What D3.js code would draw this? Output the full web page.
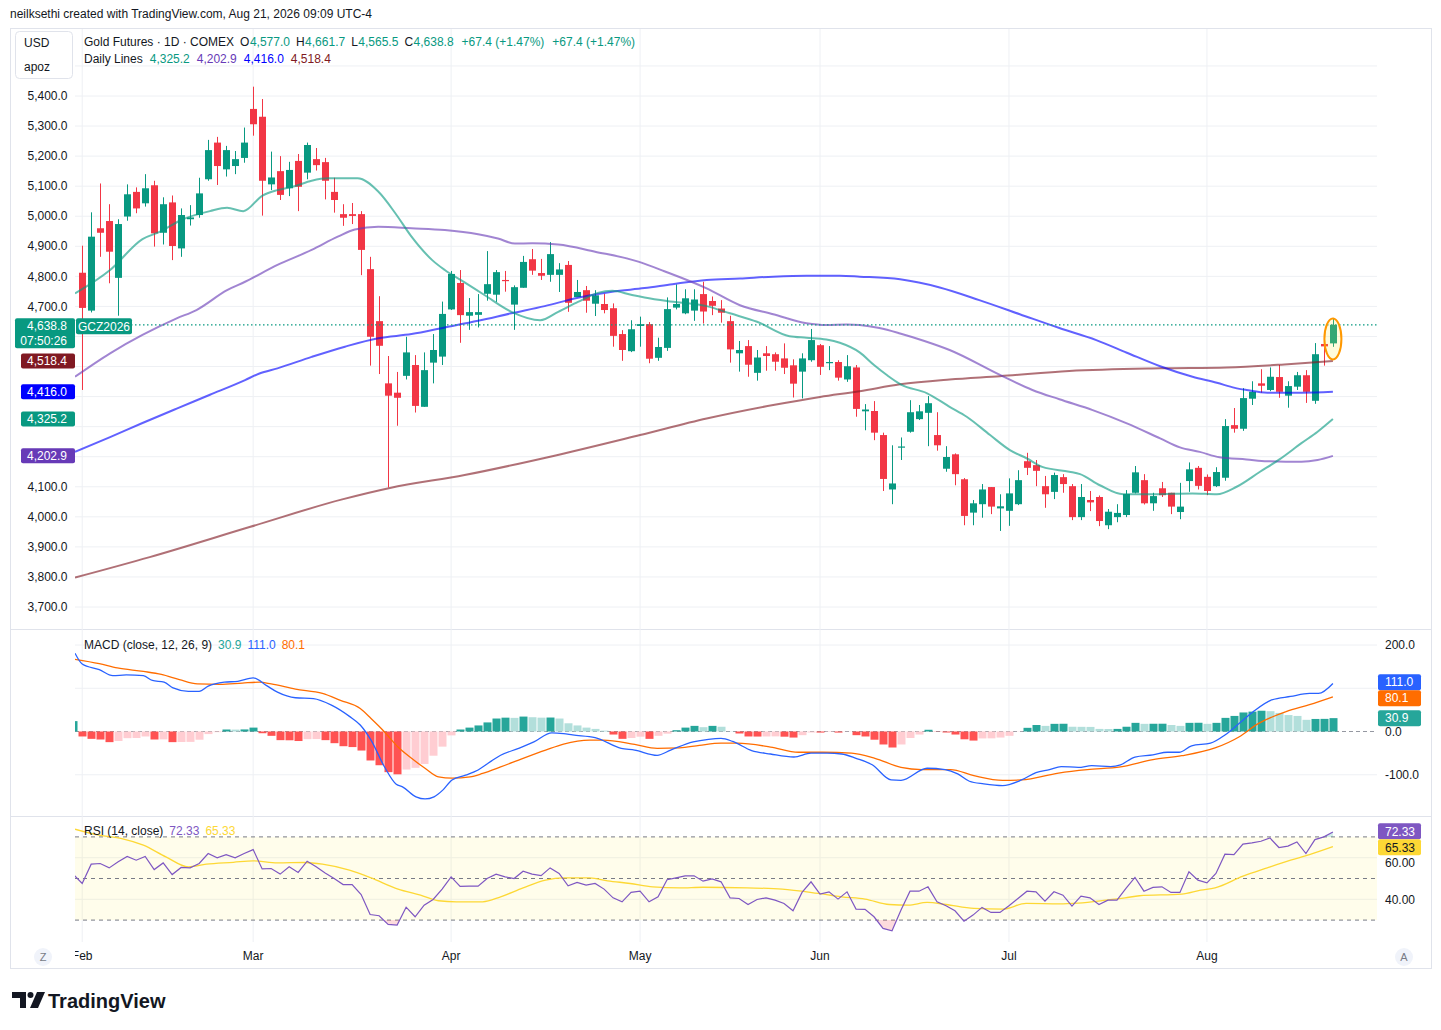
<!DOCTYPE html>
<html>
<head>
<meta charset="utf-8">
<script src="https://cdn.jsdelivr.net/npm/d3@7"></script>
<style>
  body { margin: 0; background: #fff; }
  svg text { font-family: "Liberation Sans", Arial, sans-serif; font-size: 12px; }
</style>
</head>
<body>
<div id="container"></div>
<script>
// ---- daily candles, Feb 2 .. Aug 21 2026 (bar index 0..139) ----
const opens = [
  4812,4686,4960,4984,4795,4999,5081,5043,5103,4945,
  5046,4893,4990,5004,5123,5245,5156,5167,5194,5357,
  5331,5106,5150,5093,5184,5145,5190,5180,5081,5007,
  5007,5007,4824,4651,4444,4413,4469,4505,4366,4513,
  4533,4690,4778,4669,4672,4742,4739,4788,4706,4762,
  4857,4811,4805,4805,4838,4731,4754,4709,4708,4694,
  4608,4551,4635,4641,4529,4562,4696,4677,4686,4741,
  4718,4693,4651,4544,4568,4479,4544,4541,4527,4504,
  4483,4521,4571,4511,4515,4457,4497,4351,4352,4272,
  4091,4231,4283,4325,4346,4272,4160,4208,4125,4014,
  4042,4099,4028,4020,4042,4185,4172,4102,4083,4132,
  4102,3999,4056,4066,3972,3999,4006,4080,4122,4045,
  4095,4080,4016,4119,4163,4133,4102,4130,4305,4293,
  4393,4444,4422,4465,4403,4433,4471,4386,4575,4577
];
const highs = [
  4902,5013,5109,5040,4990,5106,5096,5140,5118,5063,
  5069,5026,5037,5128,5254,5264,5234,5217,5295,5431,
  5390,5215,5200,5181,5207,5245,5227,5194,5128,5040,
  5044,5017,4865,4734,4535,4482,4599,4538,4547,4608,
  4716,4818,4821,4728,4741,4884,4821,4818,4770,4868,
  4891,4858,4914,4844,4851,4788,4768,4754,4742,4710,
  4621,4654,4666,4648,4596,4730,4773,4757,4757,4782,
  4733,4721,4669,4585,4588,4555,4568,4547,4577,4524,
  4544,4625,4575,4568,4521,4538,4505,4375,4385,4280,
  4238,4264,4388,4372,4402,4348,4235,4211,4129,4056,
  4109,4099,4075,4128,4155,4213,4189,4136,4147,4142,
  4109,4109,4086,4071,4026,4042,4089,4169,4142,4080,
  4116,4080,4113,4181,4169,4141,4165,4325,4362,4428,
  4451,4491,4497,4505,4451,4482,4488,4578,4596,4661.7
];
const lows = [
  4422,4680,4865,4777,4669,4985,5010,5032,4899,4906,
  4854,4865,4969,4995,5118,5104,5132,5140,5178,5268,
  5002,5087,5054,5067,5017,5123,5152,5056,5012,4968,
  4974,4804,4503,4475,4098,4303,4457,4347,4366,4444,
  4505,4688,4579,4622,4630,4719,4715,4749,4622,4762,
  4805,4788,4782,4748,4682,4731,4679,4668,4677,4566,
  4519,4548,4566,4511,4519,4552,4690,4674,4652,4643,
  4671,4646,4513,4483,4466,4453,4486,4486,4475,4397,
  4394,4516,4472,4488,4453,4449,4333,4288,4255,4086,
  4042,4189,4280,4322,4235,4220,4150,4105,3972,3972,
  3997,4009,3953,3970,4039,4139,4102,4030,4059,4080,
  3989,3989,4019,3969,3959,3982,3999,4078,4041,4020,
  4066,4009,3992,4083,4091,4072,4099,4120,4280,4286,
  4372,4413,4418,4396,4363,4422,4379,4376,4503,4565.5
];
const closes = [
  4695,4932,4945,4882,4974,5073,5026,5093,4943,5040,
  4901,5004,4996,5076,5220,5167,5220,5190,5245,5306,
  5118,5129,5071,5154,5098,5237,5170,5118,5054,4995,
  5001,4888,4599,4569,4403,4396,4547,4369,4488,4555,
  4675,4808,4671,4681,4681,4774,4814,4785,4764,4848,
  4819,4802,4874,4823,4712,4748,4719,4737,4688,4602,
  4555,4624,4641,4526,4565,4691,4708,4727,4723,4683,
  4702,4679,4557,4555,4506,4530,4535,4516,4496,4443,
  4527,4588,4499,4515,4463,4501,4359,4357,4280,4126,
  4111,4234,4348,4351,4378,4238,4199,4142,4003,4045,
  4091,4034,4035,4078,4122,4163,4153,4075,4139,4109,
  3999,4066,4048,3986,4017,4013,4076,4148,4045,4069,
  4072,4034,4034,4158,4103,4086,4149,4302,4293,4395,
  4416,4436,4466,4416,4435,4471,4416,4541,4567,4638.8
];

// ---- "Daily Lines" moving averages as [bar, price] ----
const ma20 = [[-0.8,4743],[3.1,4821],[6.7,4924],[8.6,4948],[11.2,4990],[14.2,5017],[16.1,5028],[17.9,5017],
  [20,5068],[21.7,5087],[23.6,5100],[25.5,5118],[27.3,5126],[30.6,5126],[32.9,5082],[34.8,5010],[36.6,4932],
  [38.9,4854],[40.3,4821],[42.5,4780],[44.7,4738],[47.7,4682],[50.9,4654],[52.9,4682],[55.1,4715],[57.3,4745],
  [58.9,4752],[61.1,4738],[62.5,4730],[65,4718],[69.4,4701],[72,4677],[75,4649],[78.6,4601],[80.5,4596],
  [82.7,4590],[84.2,4579],[86.4,4547],[88,4505],[89.5,4470],[91,4440],[93.9,4411],[96.4,4366],[98.3,4333],
  [100.9,4272],[103.1,4222],[105,4194],[106.7,4166],[109.7,4150],[110.9,4142],[113.1,4105],[115.7,4075],
  [119,4075],[123.4,4078],[126.1,4075],[128.3,4100],[130.9,4150],[133.1,4192],[135.5,4245],[137.3,4283],[139,4325.2]];
const ma50 = [[-0.8,4466],[3.1,4544],[6.7,4605],[10.5,4660],[12.7,4688],[16.1,4754],[18.1,4782],[21.7,4838],
  [25.5,4888],[28.4,4932],[30.3,4956],[32.9,4965],[36.6,4960],[40.3,4954],[44,4940],[46.2,4926],[48.1,4909],
  [50,4910],[52.9,4906],[57,4882],[61.8,4849],[64.7,4817],[69.4,4760],[73.1,4704],[76.8,4674],[80.5,4644],
  [82.7,4638],[85,4640],[86.4,4638],[88.6,4628],[90.9,4610],[93.6,4585],[96.4,4555],[102,4472],[105.6,4422],
  [108.6,4391],[112.3,4355],[116.1,4311],[119.8,4261],[122,4231],[124.2,4216],[126.4,4198],[129.4,4191],
  [131.7,4185],[135.5,4183],[137.3,4189],[139,4202.9]];
const ma100 = [[-0.8,4216],[3.1,4265],[6.7,4312],[10.5,4360],[14.2,4406],[18.1,4455],[19.7,4477],[21.7,4494],
  [25.5,4532],[29.2,4566],[32.9,4594],[36.6,4608],[40.3,4630],[44,4652],[47.7,4677],[51.4,4701],[55.1,4729],
  [58.9,4749],[62.5,4761],[65.6,4774],[69.4,4788],[73.1,4793],[76.8,4799],[80.5,4802],[84.2,4802],[86.4,4799],
  [90.9,4790],[95.3,4763],[99.7,4721],[104.2,4674],[108.6,4628],[112.7,4588],[116.1,4546],[119.8,4501],
  [123.4,4466],[126.1,4446],[128.1,4429],[129.4,4422],[131.7,4413],[135.5,4413],[139,4416]];
const ma200 = [[-0.8,3798],[7.5,3866],[18.6,3966],[28.9,4058],[34.2,4096],[42.5,4139],[52,4200],[62,4272],
  [69.4,4327],[76.8,4372],[82,4399],[86.4,4418],[90.9,4441],[96.4,4457],[102,4468],[109.7,4485],[119.8,4494],
  [127.2,4497],[133.6,4507],[139,4518.4]];

// ---- MACD (12, 26, 9) ----
const histStart = -1;
const macdHist = [
  24,-11.5,-17,-18.5,-24.6,-22,-15.4,-15,-11.5,-18.5,-18.2,
  -24.6,-24.3,-24,-19,-6,-1.5,4.6,4.4,4.8,9,
  -4,-10,-20,-20.3,-22,-17.7,-17.5,-20,-27,-34,
  -36,-44,-67,-78,-94,-99,-88,-84,-75,-56,
  -35,-9,4.6,9,14,21,30,32,31.5,34.5,
  33,32,32.3,30,19,14,9,6,2,-7,
  -17,-15,-12,-17,-10,-5,3,9,13,10,
  13,11,0.5,-4.6,-11.5,-11.7,-11.5,-11.3,-12,-14,
  -8.5,-2.3,-2.5,-1,-2.5,-0.5,-8.5,-11.5,-19,-30,
  -37,-30,-15,-7,4,-0.5,-2.3,-7,-18,-21,
  -16,-15.8,-14,-10,-0.5,8.5,15,13,17.7,17.9,
  11,10.8,10.6,6,5.8,6,11,20,17.7,17.9,
  18,15,13,20,20.2,17.7,20,31.5,36,44,
  46,48,47,43,38,36,27,29,29.2,30.9
];
const macdLine = [[-0.8,181],[0,156],[1.9,143],[3.4,129],[4.9,131],[6.8,129],[7.8,118],[9.1,114],[10.1,101],
  [11.8,93],[13,93],[14,105],[15.8,114],[17.3,116],[19,124],[20.5,106],[21.7,91],[23.7,78],[25.7,76],[27.7,61],
  [29.7,35],[30.9,15],[32.1,-20],[33.6,-82],[34.9,-122],[35.6,-128],[37.1,-151],[38.1,-156],[39.1,-151],
  [40.1,-135],[41.1,-112],[42.6,-101],[44,-89],[45.5,-68],[46.5,-55],[48.5,-39],[50.2,-24],[52.2,-3],[53.5,-5],
  [54.5,-8],[57,-14],[59.9,-39],[61.4,-43],[63.9,-55],[65.4,-43],[67.9,-24],[69.6,-18],[71,-16],[72.3,-23],
  [74.4,-44],[76.5,-52],[79.1,-59],[81,-50],[82.8,-50],[84.4,-52],[86,-62],[87.8,-77],[89.9,-112],[91,-113],
  [93.9,-85],[95.9,-88],[97.3,-98],[98.6,-115],[100.2,-121],[102.3,-125],[104.4,-112],[106,-95],[107.5,-88],
  [108.8,-81],[110.7,-83],[112.2,-79],[114.3,-81],[115.4,-77],[117,-59],[119,-54],[120.6,-48],[121.9,-48],
  [123.3,-33],[125.4,-27],[127,-8],[128.6,19],[130.1,45],[132.2,73],[134.3,81],[136.4,88],[137.4,88],[139,111]];
const signalLine = [[-0.8,167],[1.9,157],[3.9,147],[6.8,139],[8.8,132],[10.8,120],[12.8,110],[15.3,109],
  [17.8,112],[19.7,114],[21,110],[23.7,98],[26.7,88],[28.7,72],[30.9,53],[32.1,30],[33.6,-1],[35.1,-36],
  [36.6,-62],[38.1,-85],[39.6,-105],[41.1,-108],[43.1,-105],[44.5,-97],[46.5,-82],[49,-62],[51.5,-43],
  [53.5,-29],[56.4,-20],[57.9,-20],[61.4,-30],[63.9,-39],[66.4,-38],[68.6,-32],[71,-27],[72.8,-27],[76.5,-36],
  [79.6,-48],[82.3,-48],[85.5,-50],[88.1,-62],[91,-83],[93.3,-88],[96.5,-88],[99.1,-102],[102.3,-113],
  [104.4,-112],[108.5,-96],[111.7,-88],[115.4,-82],[119,-65],[122.2,-56],[125.9,-38],[128.6,-12],[130.6,17],
  [133.8,46],[136.4,62],[139,80.1]];

// ---- RSI (14) and its moving average ----
const rsiStart = -1;
const rsiValues = [
  52,47.6,56.9,57.2,55.1,58,60.6,58.8,60.6,54.3,57.5,
  51.9,55.3,55.1,57.2,62,59.9,61.5,59.9,62,63.9,
  54.6,54.8,52.1,55.6,52.9,58.3,55.6,52.7,50,47.1,
  47.1,42.3,32.7,32.1,27.9,27.6,36.2,31.6,37.2,39.9,
  44.9,50.8,46.2,46.3,46.3,50,52.1,50.8,50,53.5,
  52.1,51.4,55.1,52.4,46.5,48.1,46.8,47.6,44.9,40.7,
  38.8,43.3,43.9,38.8,41.2,49.4,50.3,51.3,51.3,48.7,
  49.8,48.4,40.7,40.4,37.5,39.9,40.7,39.6,38,34.5,
  43.3,48.4,42.5,43.6,40.1,43.6,35.3,35.2,31.6,26,
  24.9,34.8,43.9,43.9,46,38.8,36.9,34.5,29.5,32.4,
  36.1,33.7,33.7,36.9,40.4,43.9,43.6,39.1,43.6,42,
  36.7,41.5,40.7,37.5,39.6,39.6,45.2,50.5,43.9,45.7,
  46,43.3,43.3,53.2,49.2,47.9,52.4,61.7,61.5,66.5,
  67.1,67.9,69.5,64.9,65.6,67.6,62,68.7,70,72.33
];
const rsiMa = [[-0.8,73.7],[1.9,70.8],[4.4,69.2],[6.8,66],[9.3,60.4],[11.8,55.6],[13.8,56.9],[16.8,57.8],
  [19,58.5],[21.7,57.5],[24.7,57.7],[26.7,56.9],[29.7,54],[32.1,50.3],[35.1,44.9],[37.6,42],[39.6,39.3],
  [41.6,38.8],[44.5,38.8],[46.5,41.2],[49,45.5],[51.5,49.2],[53.5,50.3],[56.4,50.3],[58.4,48.9],[60.9,47.6],
  [63.4,46],[66.4,45.5],[69,45.8],[73.9,45.5],[77.8,44.9],[81.8,42.8],[84.4,41.2],[87,40.1],[89.7,37.5],
  [91.8,37.2],[93.9,38.5],[96,37.5],[99.1,35.6],[102.3,35.3],[104.9,38],[108.6,37.8],[110.7,38.2],
  [113.8,39.6],[115.9,40.7],[117.5,41.7],[122.2,42.5],[124.3,44.4],[125.9,45.5],[129,51.1],[131.7,55.1],
  [134.3,58.8],[136.4,61.5],[139,65.33]];

// ---- axes ----
const monthLabels = ["Feb", "Mar", "Apr", "May", "Jun", "Jul", "Aug"];
const monthStartBar = [0, 19, 41, 62, 82, 103, 125];
const priceTicks = [5500,5400,5300,5200,5100,5000,4900,4800,4700,4600,4500,4400,4300,4200,4100,4000,3900,3800,3700];
const macdTicks = [200, 100, -100];
const macdTickLabels = ["200.0", "", "-100.0"];
const rsiTicks = [60, 40];
const rsiLevels = [70, 50, 30];

const GREEN = "#089981", RED = "#f23645", INK = "#131722", GRID = "#eef0f4", BORDER = "#e0e3eb";

const x = d3.scaleLinear().domain([-0.8, 143.9]).range([75, 1377]);
const y = d3.scaleLinear().domain([3700, 5400]).range([607, 96]);
const yM = d3.scaleLinear().domain([-100, 200]).range([774.75, 645]);
const yR = d3.scaleLinear().domain([40, 60]).range([899.3, 857.7]);

const svg = d3.select("#container").append("svg").attr("width", 1441).attr("height", 1030);
const defs = svg.append("defs");
function clip(id, x0, y0, x1, y1) {
  defs.append("clipPath").attr("id", id).append("rect")
    .attr("x", x0).attr("y", y0).attr("width", x1 - x0).attr("height", y1 - y0);
}
clip("clipPrice", 75, 29, 1377, 629);
clip("clipMacd", 75, 630, 1377, 816);
clip("clipRsi", 75, 817, 1377, 942);
clip("clipTime", 75, 943, 1377, 969);
clip("clipBelow", 75, yR(30), 1377, 942);
clip("clipAbove", 75, 817, 1377, yR(70));

// texts laid out one after another, each with its own gap after it
function flow(items, x0, yv) {
  let cx = x0;
  items.forEach(([t, c, gap]) => {
    const el = svg.append("text").attr("x", cx).attr("y", yv).attr("fill", c).text(t);
    cx += el.node().getComputedTextLength() + gap;
  });
}

svg.append("text").attr("x", 10).attr("y", 18).attr("fill", INK).text("neilksethi created with TradingView.com, Aug 21, 2026 09:09 UTC-4");

// frame and pane separators
svg.append("rect").attr("x", 10.5).attr("y", 28.5).attr("width", 1421).attr("height", 940)
  .attr("fill", "#fff").attr("stroke", BORDER);
[629.5, 816.5].forEach(v => svg.append("line").attr("x1", 10).attr("x2", 1432).attr("y1", v).attr("y2", v).attr("stroke", BORDER));

// gridlines
const grid = svg.append("g");
grid.selectAll(".vg").data(monthStartBar).enter().append("line")
  .attr("x1", d => x(d)).attr("x2", d => x(d)).attr("y1", 29).attr("y2", 942).attr("stroke", GRID);
grid.append("g").attr("clip-path", "url(#clipPrice)").selectAll("line").data(priceTicks).enter().append("line")
  .attr("x1", 75).attr("x2", 1377).attr("y1", d => y(d)).attr("y2", d => y(d)).attr("stroke", GRID);
grid.selectAll(".mg").data(macdTicks).enter().append("line")
  .attr("x1", 75).attr("x2", 1377).attr("y1", d => yM(d)).attr("y2", d => yM(d)).attr("stroke", GRID);
grid.selectAll(".rg").data(rsiTicks).enter().append("line")
  .attr("x1", 75).attr("x2", 1377).attr("y1", d => yR(d)).attr("y2", d => yR(d)).attr("stroke", GRID);

// ---------- price pane ----------
const price = svg.append("g").attr("clip-path", "url(#clipPrice)");
const candles = opens.map((o, i) => ({ i, o, h: highs[i], l: lows[i], c: closes[i] }));
const cg = price.selectAll(".candle").data(candles).enter().append("g")
  .attr("fill", d => d.c >= d.o ? GREEN : RED).attr("stroke", d => d.c >= d.o ? GREEN : RED);
cg.append("line").attr("x1", d => Math.round(x(d.i)) + 0.5).attr("x2", d => Math.round(x(d.i)) + 0.5)
  .attr("y1", d => y(d.h)).attr("y2", d => y(d.l)).attr("stroke-width", 1);
cg.append("rect").attr("stroke", "none")
  .attr("x", d => Math.round(x(d.i)) - 3).attr("width", 7)
  .attr("y", d => y(Math.max(d.o, d.c)))
  .attr("height", d => Math.max(1.2, Math.abs(y(d.o) - y(d.c))));

const maLine = d3.line().x(d => x(d[0])).y(d => y(d[1])).curve(d3.curveMonotoneX);
const maSeries = [
  { data: ma200, color: "#801922" },
  { data: ma100, color: "#0000ff" },
  { data: ma50, color: "#673ab7" },
  { data: ma20, color: GREEN }
];
maSeries.forEach(s => price.append("path").attr("d", maLine(s.data)).attr("fill", "none")
  .attr("stroke", s.color).attr("stroke-opacity", 0.62).attr("stroke-width", 2));

// last price dotted line and highlight
const last = closes[closes.length - 1];
price.append("line").attr("x1", 131).attr("x2", 1377).attr("y1", y(last)).attr("y2", y(last))
  .attr("stroke", GREEN).attr("stroke-width", 1.2).attr("stroke-dasharray", "1.5,2.5");
price.append("ellipse").attr("cx", x(139)).attr("cy", y(4592)).attr("rx", 8.5).attr("ry", 20.5)
  .attr("fill", "rgba(255,235,59,0.18)").attr("stroke", "#ff9800").attr("stroke-width", 2);

// price tags on the axis (value, colour, tag height)
const lastMa = [[ma200, "#801922"], [ma100, "#0000ff"], [ma20, GREEN], [ma50, "#673ab7"]]
  .map(([s, c]) => ({ v: s[s.length - 1][1], c }));
const tagBands = [[y(last) - 7, y(last) + 23]].concat(lastMa.map(d => [y(d.v) - 7.5, y(d.v) + 7.5]));

// left price axis (labels hidden under a tag are left out)
svg.append("g").selectAll("text")
  .data(priceTicks.filter(d => d <= 5400 && !tagBands.some(b => y(d) + 6 > b[0] && y(d) - 6 < b[1])))
  .enter().append("text")
  .attr("x", 67.5).attr("y", d => y(d)).attr("dy", "0.35em").attr("text-anchor", "end").attr("fill", INK)
  .text(d => d3.format(",.1f")(d));

// symbol box top-left
svg.append("rect").attr("x", 15.5).attr("y", 31.5).attr("width", 57).attr("height", 47).attr("rx", 4)
  .attr("fill", "#fff").attr("stroke", BORDER);
svg.append("text").attr("x", 24).attr("y", 47).attr("fill", INK).text("USD");
svg.append("text").attr("x", 24).attr("y", 71).attr("fill", INK).text("apoz");

function tag(x0, w, yc, h, color, lines) {
  svg.append("rect").attr("x", x0).attr("y", yc - 7.5).attr("width", w).attr("height", h).attr("rx", 2).attr("fill", color);
  lines.forEach((t, k) => svg.append("text").attr("x", x0 + w - 8).attr("y", yc + k * 15).attr("dy", "0.35em")
    .attr("text-anchor", "end").attr("fill", "#fff").text(t));
}
tag(15, 60, y(last) + 1, 30, GREEN, [d3.format(",.1f")(last), "07:50:26"]);
svg.append("rect").attr("x", 76).attr("y", y(last) - 6.5).attr("width", 56).attr("height", 16).attr("rx", 2).attr("fill", GREEN);
svg.append("text").attr("x", 104).attr("y", y(last) + 1.5).attr("dy", "0.35em").attr("text-anchor", "middle")
  .attr("fill", "#fff").text("GCZ2026");
lastMa.forEach(d => tag(21, 54, y(d.v), 15, d.c, [d3.format(",.1f")(d.v)]));

// legend
flow([["Gold Futures · 1D · COMEX", INK, 6], ["O", INK, 0.5], ["4,577.0", GREEN, 6], ["H", INK, 0.5],
  ["4,661.7", GREEN, 6], ["L", INK, 0.5], ["4,565.5", GREEN, 6], ["C", INK, 0.5], ["4,638.8", GREEN, 8],
  ["+67.4 (+1.47%)", GREEN, 8], ["+67.4 (+1.47%)", GREEN, 0]], 84, 46);
flow([["Daily Lines", INK, 7], ["4,325.2", GREEN, 7], ["4,202.9", "#673ab7", 7],
  ["4,416.0", "#0000ff", 7], ["4,518.4", "#801922", 0]], 84, 63);

// ---------- MACD pane ----------
const macd = svg.append("g").attr("clip-path", "url(#clipMacd)");
macd.append("line").attr("x1", 75).attr("x2", 1377).attr("y1", yM(0)).attr("y2", yM(0))
  .attr("stroke", "#9598a1").attr("stroke-dasharray", "4,3");
const hist = macdHist.map((v, k) => ({ i: k + histStart, v, prev: k > 0 ? macdHist[k - 1] : undefined }));
function histColor(d) {
  if (d.v >= 0) return d.prev === undefined || d.prev < d.v ? "#26a69a" : "#b2dfdb";
  return d.prev !== undefined && d.prev < d.v ? "#ffcdd2" : "#ff5252";
}
macd.selectAll(".hb").data(hist).enter().append("rect")
  .attr("x", d => Math.round(x(d.i)) - 3.5).attr("width", 8)
  .attr("y", d => Math.min(yM(0), yM(d.v))).attr("height", d => Math.abs(yM(d.v) - yM(0)))
  .attr("fill", histColor);
const mLine = d3.line().x(d => x(d[0])).y(d => yM(d[1])).curve(d3.curveMonotoneX);
macd.append("path").attr("d", mLine(signalLine)).attr("fill", "none").attr("stroke", "#ff6d00").attr("stroke-width", 1.3);
macd.append("path").attr("d", mLine(macdLine)).attr("fill", "none").attr("stroke", "#2962ff").attr("stroke-width", 1.3);

svg.selectAll(".mt").data(macdTicks.map((d, k) => [d, macdTickLabels[k]]).concat([[0, "0.0"]])).enter().append("text")
  .attr("x", 1385).attr("y", d => yM(d[0])).attr("dy", "0.35em").attr("fill", INK).text(d => d[1]);

function rightTags(items, scale) {
  const ys = items.map(d => scale(d.v));
  for (let k = 1; k < ys.length; k++) {
    const gap = ys[k] - ys[k - 1];
    if (gap < 16) { const push = (16 - gap) / 2; ys[k - 1] -= push; ys[k] += push; }
  }
  items.forEach((d, k) => {
    svg.append("rect").attr("x", 1378).attr("y", ys[k] - 8).attr("width", 43).attr("height", 16).attr("rx", 2).attr("fill", d.color);
    svg.append("text").attr("x", 1385).attr("y", ys[k]).attr("dy", "0.35em").attr("fill", d.text).text(d.label);
  });
}
rightTags([
  { v: 111.0, label: "111.0", color: "#2962ff", text: "#fff" },
  { v: 80.1, label: "80.1", color: "#ff6d00", text: "#fff" },
  { v: 30.9, label: "30.9", color: "#26a69a", text: "#fff" }
], yM);

flow([["MACD (close, 12, 26, 9)", INK, 6], ["30.9", "#26a69a", 6], ["111.0", "#2962ff", 6], ["80.1", "#ff6d00", 0]], 84, 649);

// ---------- RSI pane ----------
const rsi = svg.append("g").attr("clip-path", "url(#clipRsi)");
rsi.append("rect").attr("x", 75).attr("width", 1302).attr("y", yR(70)).attr("height", yR(30) - yR(70))
  .attr("fill", "rgba(255,235,59,0.1)");
rsi.selectAll(".lv").data(rsiLevels).enter().append("line")
  .attr("x1", 75).attr("x2", 1377).attr("y1", d => yR(d)).attr("y2", d => yR(d))
  .attr("stroke", "#787b86").attr("stroke-dasharray", "4,4");
const rsiPts = rsiValues.map((v, k) => [k + rsiStart, v]);
const rLine = d3.line().x(d => x(d[0])).y(d => yR(d[1]));
rsi.append("g").attr("clip-path", "url(#clipBelow)").append("path")
  .attr("d", d3.area().x(d => x(d[0])).y0(yR(30)).y1(d => yR(d[1]))(rsiPts)).attr("fill", "rgba(242,54,69,0.18)");
rsi.append("g").attr("clip-path", "url(#clipAbove)").append("path")
  .attr("d", d3.area().x(d => x(d[0])).y0(yR(70)).y1(d => yR(d[1]))(rsiPts)).attr("fill", "rgba(8,153,129,0.18)");
rsi.append("path").attr("d", d3.line().x(d => x(d[0])).y(d => yR(d[1])).curve(d3.curveMonotoneX)(rsiMa))
  .attr("fill", "none").attr("stroke", "#fdd835").attr("stroke-width", 1.3);
rsi.append("path").attr("d", rLine(rsiPts)).attr("fill", "none").attr("stroke", "#7e57c2").attr("stroke-width", 1.2);

const rsiTagBands = [[yR(72.33) - 9, yR(65.33) + 10]];
svg.selectAll(".rt").data(rsiTicks).enter().append("text")
  .attr("x", 1385).attr("y", d => yR(d)).attr("dy", d => rsiTagBands.some(b => yR(d) > b[0] && yR(d) - 6 < b[1]) ? "0.75em" : "0.35em")
  .attr("fill", INK).text(d => d.toFixed(2));
rightTags([
  { v: 72.33, label: "72.33", color: "#7e57c2", text: "#fff" },
  { v: 65.33, label: "65.33", color: "#fdd835", text: INK }
], yR);
flow([["RSI (14, close)", INK, 6], ["72.33", "#7e57c2", 6], ["65.33", "#fdd835", 0]], 84, 835);

// ---------- time axis ----------
svg.append("g").attr("clip-path", "url(#clipTime)").selectAll("text").data(monthStartBar).enter().append("text")
  .attr("x", d => x(d)).attr("y", 956).attr("dy", "0.35em").attr("text-anchor", "middle").attr("fill", INK)
  .text((d, k) => monthLabels[k]);
[[43, "Z"], [1404, "A"]].forEach(([cx, t]) => {
  svg.append("circle").attr("cx", cx).attr("cy", 957).attr("r", 9).attr("fill", "#f0f3fa");
  svg.append("text").attr("x", cx).attr("y", 957).attr("dy", "0.35em").attr("text-anchor", "middle")
    .attr("fill", "#787b86").style("font-size", "11px").text(t);
});

// ---------- TradingView logo ----------
const logo = svg.append("g").attr("fill", INK);
logo.append("path").attr("d", "M12 992 H26 V1008 H20 V998 H12 Z");
logo.append("circle").attr("cx", 30.5).attr("cy", 995).attr("r", 3);
logo.append("path").attr("d", "M37 992 H45 L38 1008 H30 Z");
svg.append("text").attr("x", 48).attr("y", 1008).style("font-size", "20px").style("font-weight", "bold")
  .attr("fill", INK).text("TradingView");
</script>
</body>
</html>
